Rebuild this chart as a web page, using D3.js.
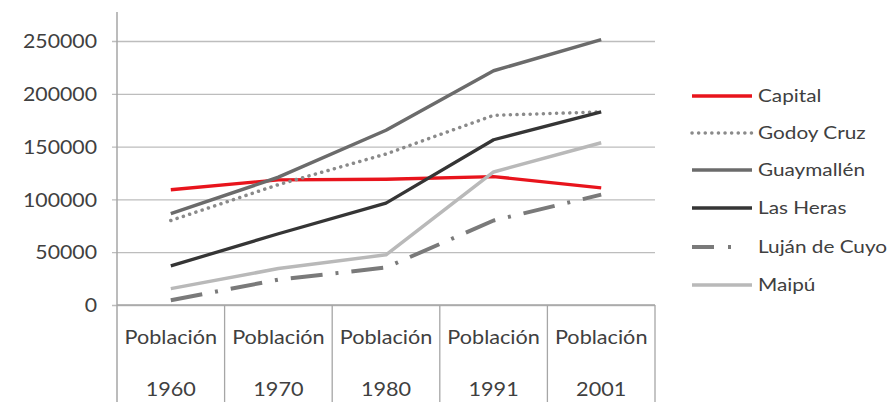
<!DOCTYPE html>
<html><head><meta charset="utf-8">
<script src="https://cdn.jsdelivr.net/npm/d3@7"></script>
<style>body{margin:0;background:#fff}svg{display:block}text{font-family:Lato,"Open Sans",sans-serif;fill:#404040}</style>
</head><body>
<svg id="c" width="895" height="402"></svg>
<script>
const categories = ["1960","1970","1980","1991","2001"];
const catPrefix = "Población";
const seriesNames = ["Capital","Godoy Cruz","Guaymallén","Las Heras","Luján de Cuyo","Maipú"];
const capital   = [109122,118568,119088,121620,110993];
const godoyCruz = [80000,114000,143000,179600,182900];
const guaymallen= [86500,121000,165500,221800,251300];
const lasHeras  = [37000,67500,96500,156500,182900];
const lujan     = [4500,24000,35500,80000,104500];
const maipu     = [15500,34500,47500,126000,153600];
const yTicks = [0,50000,100000,150000,200000,250000];

const seriesValues = [capital,godoyCruz,guaymallen,lasHeras,lujan,maipu];
const styles = [
  {color:"#e8141c", dash:null, w:3.3, cap:"butt"},
  {color:"#8a8a8a", dash:"0.1,6.5", w:3.5, cap:"round"},
  {color:"#6b6b6b", dash:null, w:3.5, cap:"butt"},
  {color:"#353535", dash:null, w:3.3, cap:"butt"},
  {color:"#7a7a7a", dash:"32,13,3,13", w:4, cap:"butt"},
  {color:"#b9b9b9", dash:null, w:3.5, cap:"butt"}
];

const svg = d3.select("#c");
const L=117, R=655, T=41, B=305;
const x = d3.scaleBand().domain(categories).range([L,R]).paddingInner(0).paddingOuter(0);
const y = d3.scaleLinear().domain([0,250000]).range([B,T]);

// gridlines + tick labels
const gy = d3.axisLeft(y).tickValues(yTicks).tickSize(-(R-L)).tickFormat(d=>d).tickPadding(20);
const gAx = svg.append("g").attr("transform",`translate(${L},0)`).call(gy);
gAx.select(".domain").remove();
gAx.selectAll(".tick line").attr("stroke","#bdbdbd").attr("stroke-width",1.3).attr("x1",-5);
gAx.selectAll(".tick text").style("font-size","18.5px").attr("fill","#404040")
  .attr("transform","scale(1.15,1)").attr("x",-20/1.15).attr("dy","0.36em");

// vertical axis line
svg.append("line").attr("x1",L).attr("x2",L).attr("y1",12).attr("y2",402).attr("stroke","#a6a6a6").attr("stroke-width",1.5);
// category table
svg.append("line").attr("x1",L).attr("x2",R).attr("y1",B).attr("y2",B).attr("stroke","#a6a6a6").attr("stroke-width",1.3);
categories.forEach(c=>{
  const xe = x(c)+x.bandwidth();
  svg.append("line").attr("x1",xe).attr("x2",xe).attr("y1",B).attr("y2",402).attr("stroke","#a6a6a6").attr("stroke-width",1.3);
  const cx = x(c)+x.bandwidth()/2;
  svg.append("text").attr("transform",`translate(${cx},344) scale(1.17,1)`).attr("text-anchor","middle").style("font-size","18.5px").text(catPrefix);
  svg.append("text").attr("transform",`translate(${cx},396) scale(1.17,1)`).attr("text-anchor","middle").style("font-size","18.5px").text(c);
});

const line = d3.line().x((d,i)=>x(categories[i])+x.bandwidth()/2).y(d=>y(d));
seriesValues.forEach((vals,k)=>{
  const s=styles[k];
  svg.append("path").datum(vals).attr("d",line).attr("fill","none")
    .attr("stroke",s.color).attr("stroke-width",s.w).attr("stroke-linecap",s.cap)
    .attr("stroke-linejoin","round").attr("stroke-dasharray",s.dash);
});

// legend
const legY = [96,133,170,208,247,285];
seriesNames.forEach((n,k)=>{
  const s=styles[k];
  svg.append("line").attr("x1",692).attr("x2",752).attr("y1",legY[k]).attr("y2",legY[k])
    .attr("stroke",s.color).attr("stroke-width",s.w).attr("stroke-linecap",s.cap)
    .attr("stroke-dasharray",k===4?"22,14,3,100":s.dash);
  svg.append("text").attr("transform",`translate(758,${legY[k]}) scale(1.2,1)`).attr("dy","0.36em").style("font-size","17.3px").text(n);
});
</script>
</body></html>
